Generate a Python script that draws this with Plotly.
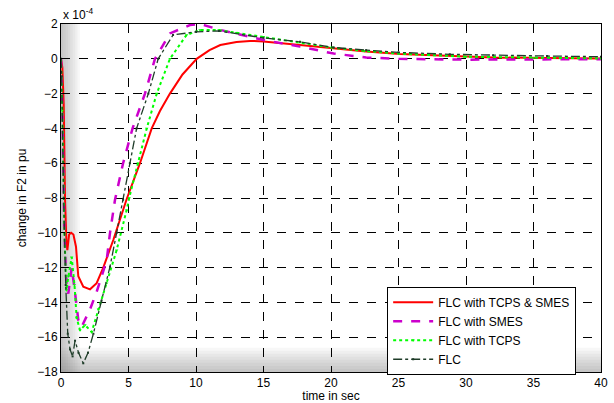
import plotly.graph_objects as go

# ---- data (time in sec, change in F2 in units of 1e-4 pu) ----
t_red = [0, 0.1, 0.2, 0.3, 0.4, 0.47, 0.6, 0.75, 0.92, 1.11, 1.28, 1.65, 2.15, 2.64, 3.13, 3.88, 4.86,
         5.85, 6.72, 7.33, 8.07, 9.0, 10.05, 11.0, 11.8, 13.0, 14.0, 15.0, 17.7, 20.2, 22.6, 25.1, 28.8,
         32, 36, 40]
y_red = [0, -0.5, -2.6, -8.1, -10.5, -11.0, -10.1, -10.0, -10.1, -10.8, -12.5, -13.1, -13.25, -12.9, -12.0,
         -10.4, -8.07, -6.0, -4.0, -3.0, -2.0, -0.9, 0.0, 0.5, 0.79, 0.97, 1.03, 1.0, 0.79, 0.6, 0.42,
         0.28, 0.15, 0.08, 0.04, 0.02]

t_mag = [0, 0.1, 0.25, 0.4, 0.54, 0.79, 1.0, 1.28, 1.53, 2.15, 2.64, 3.38, 3.63, 4.0, 4.6, 5.3, 6.22,
         6.96, 8.07, 9.55, 10.3, 11.8, 13.5, 15.0, 17.7, 20.2, 22.6, 25.0, 30.0, 35.0, 40.0]
y_mag = [0, -3.0, -10.0, -12.8, -13.5, -12.0, -13.2, -15.0, -15.4, -14.4, -13.4, -11.6, -10.0, -8.1, -6.0,
         -4.0, -2.0, 0.0, 1.46, 1.94, 2.0, 1.66, 1.35, 1.08, 0.7, 0.3, 0.08, 0.0, -0.05, -0.03, -0.02]

t_grn = [0, 0.1, 0.25, 0.4, 0.55, 0.79, 1.0, 1.16, 1.41, 1.78, 2.27, 2.77, 3.38, 4.12, 4.86, 5.05, 5.7,
         6.35, 7.09, 8.07, 9.3, 10.3, 11.7, 13.0, 15.0, 17.7, 20.0, 22.5, 25.0, 30.0, 35.0, 40.0]
y_grn = [0, -3.0, -10.0, -13.3, -12.5, -11.4, -13.0, -14.9, -15.6, -15.3, -15.7, -14.4, -12.9, -11.0, -8.7,
         -8.0, -6.0, -4.0, -2.0, 0.0, 1.37, 1.65, 1.65, 1.5, 1.27, 0.95, 0.65, 0.45, 0.3, 0.12, 0.05, 0.02]

t_blk = [0, 0.05, 0.2, 0.35, 0.5, 0.67, 0.86, 1.04, 1.3, 1.65, 2.0, 2.4, 3.0, 3.63, 4.12, 4.6, 5.1, 5.6,
         6.47, 7.2, 8.3, 10.0, 11.7, 15.0, 17.7, 20.2, 22.6, 25.0, 28.8, 32.0, 36.0, 40.0]
y_blk = [0, -1.0, -8.0, -13.0, -15.8, -16.7, -17.1, -16.2, -16.9, -17.5, -16.9, -15.8, -13.9, -11.95, -10.0,
         -8.1, -6.0, -4.0, -2.0, 0.0, 1.37, 1.55, 1.6, 1.2, 0.98, 0.65, 0.5, 0.37, 0.26, 0.2, 0.16, 0.12]

x_ticks = [0, 5, 10, 15, 20, 25, 30, 35, 40]
y_ticks = [2, 0, -2, -4, -6, -8, -10, -12, -14, -16, -18]

names = ["FLC with TCPS & SMES", "FLC with SMES", "FLC with TCPS", "FLC"]

FONT = "Arial, Liberation Sans, sans-serif"

fig = go.Figure()
fig.add_trace(go.Scatter(x=t_red, y=y_red, name=names[0], mode="lines",
                         line=dict(color="#ff0000", width=2)))
fig.add_trace(go.Scatter(x=t_mag, y=y_mag, name=names[1], mode="lines",
                         line=dict(color="#cc00cc", width=2.5, dash="dash")))
fig.add_trace(go.Scatter(x=t_grn, y=y_grn, name=names[2], mode="lines+markers",
                         line=dict(color="#00ff00", width=2, dash="dot"),
                         marker=dict(symbol="triangle-down", size=3, color="#00ff00")))
fig.add_trace(go.Scatter(x=t_blk, y=y_blk, name=names[3], mode="lines+markers",
                         line=dict(color="#1e3c28", width=1.3, dash="dashdot"),
                         marker=dict(symbol="square", size=2, color="#1e3c28")))

# shading (MATLAB-like gradient at left and bottom edges of the axes)
shapes = []
n = 8
for i in range(n):
    w = 0.035 * (i + 1) / n
    shapes.append(dict(type="rect", xref="x domain", yref="y domain", x0=0, x1=w, y0=0, y1=1,
                       fillcolor="rgba(90,90,90,0.05)", line=dict(width=0), layer="below"))
    h = 0.07 * (i + 1) / n
    shapes.append(dict(type="rect", xref="x domain", yref="y domain", x0=0, x1=1, y0=0, y1=h,
                       fillcolor="rgba(90,90,90,0.05)", line=dict(width=0), layer="below"))

axis_common = dict(showline=True, linecolor="black", linewidth=1, mirror=True,
                   showgrid=True, gridcolor="black", griddash="dash", gridwidth=1,
                   ticks="inside", ticklen=4, tickcolor="black", zeroline=False,
                   automargin=False,
                   tickfont=dict(family=FONT, size=12, color="black"))

fig.update_layout(
    width=614, height=403,
    margin=dict(l=61, r=13, t=24, b=31),
    paper_bgcolor="white", plot_bgcolor="white",
    shapes=shapes,
    xaxis=dict(range=[0, 40], tickvals=x_ticks, **axis_common,
               title=dict(text="time in sec", font=dict(family=FONT, size=12, color="black"),
                          standoff=4)),
    yaxis=dict(range=[-18, 2], tickvals=y_ticks, **axis_common,
               title=dict(text="change in F2 in pu", font=dict(family=FONT, size=12, color="black"),
                          standoff=8)),
    legend=dict(x=0.604, y=0.245, xanchor="left", yanchor="top", bgcolor="white",
                bordercolor="black", borderwidth=1, tracegroupgap=0, itemwidth=40,
                font=dict(family=FONT, size=12, color="black")),
    annotations=[dict(text="x 10<sup>-4</sup>", xref="paper", yref="paper", x=0, y=1.0,
                      xanchor="left", yanchor="bottom", showarrow=False,
                      font=dict(family=FONT, size=12, color="black"))],
    showlegend=True,
)

fig.write_html("out.html", config={"displayModeBar": False},
               post_script="document.body.style.margin='0';document.body.style.overflow='hidden';")
